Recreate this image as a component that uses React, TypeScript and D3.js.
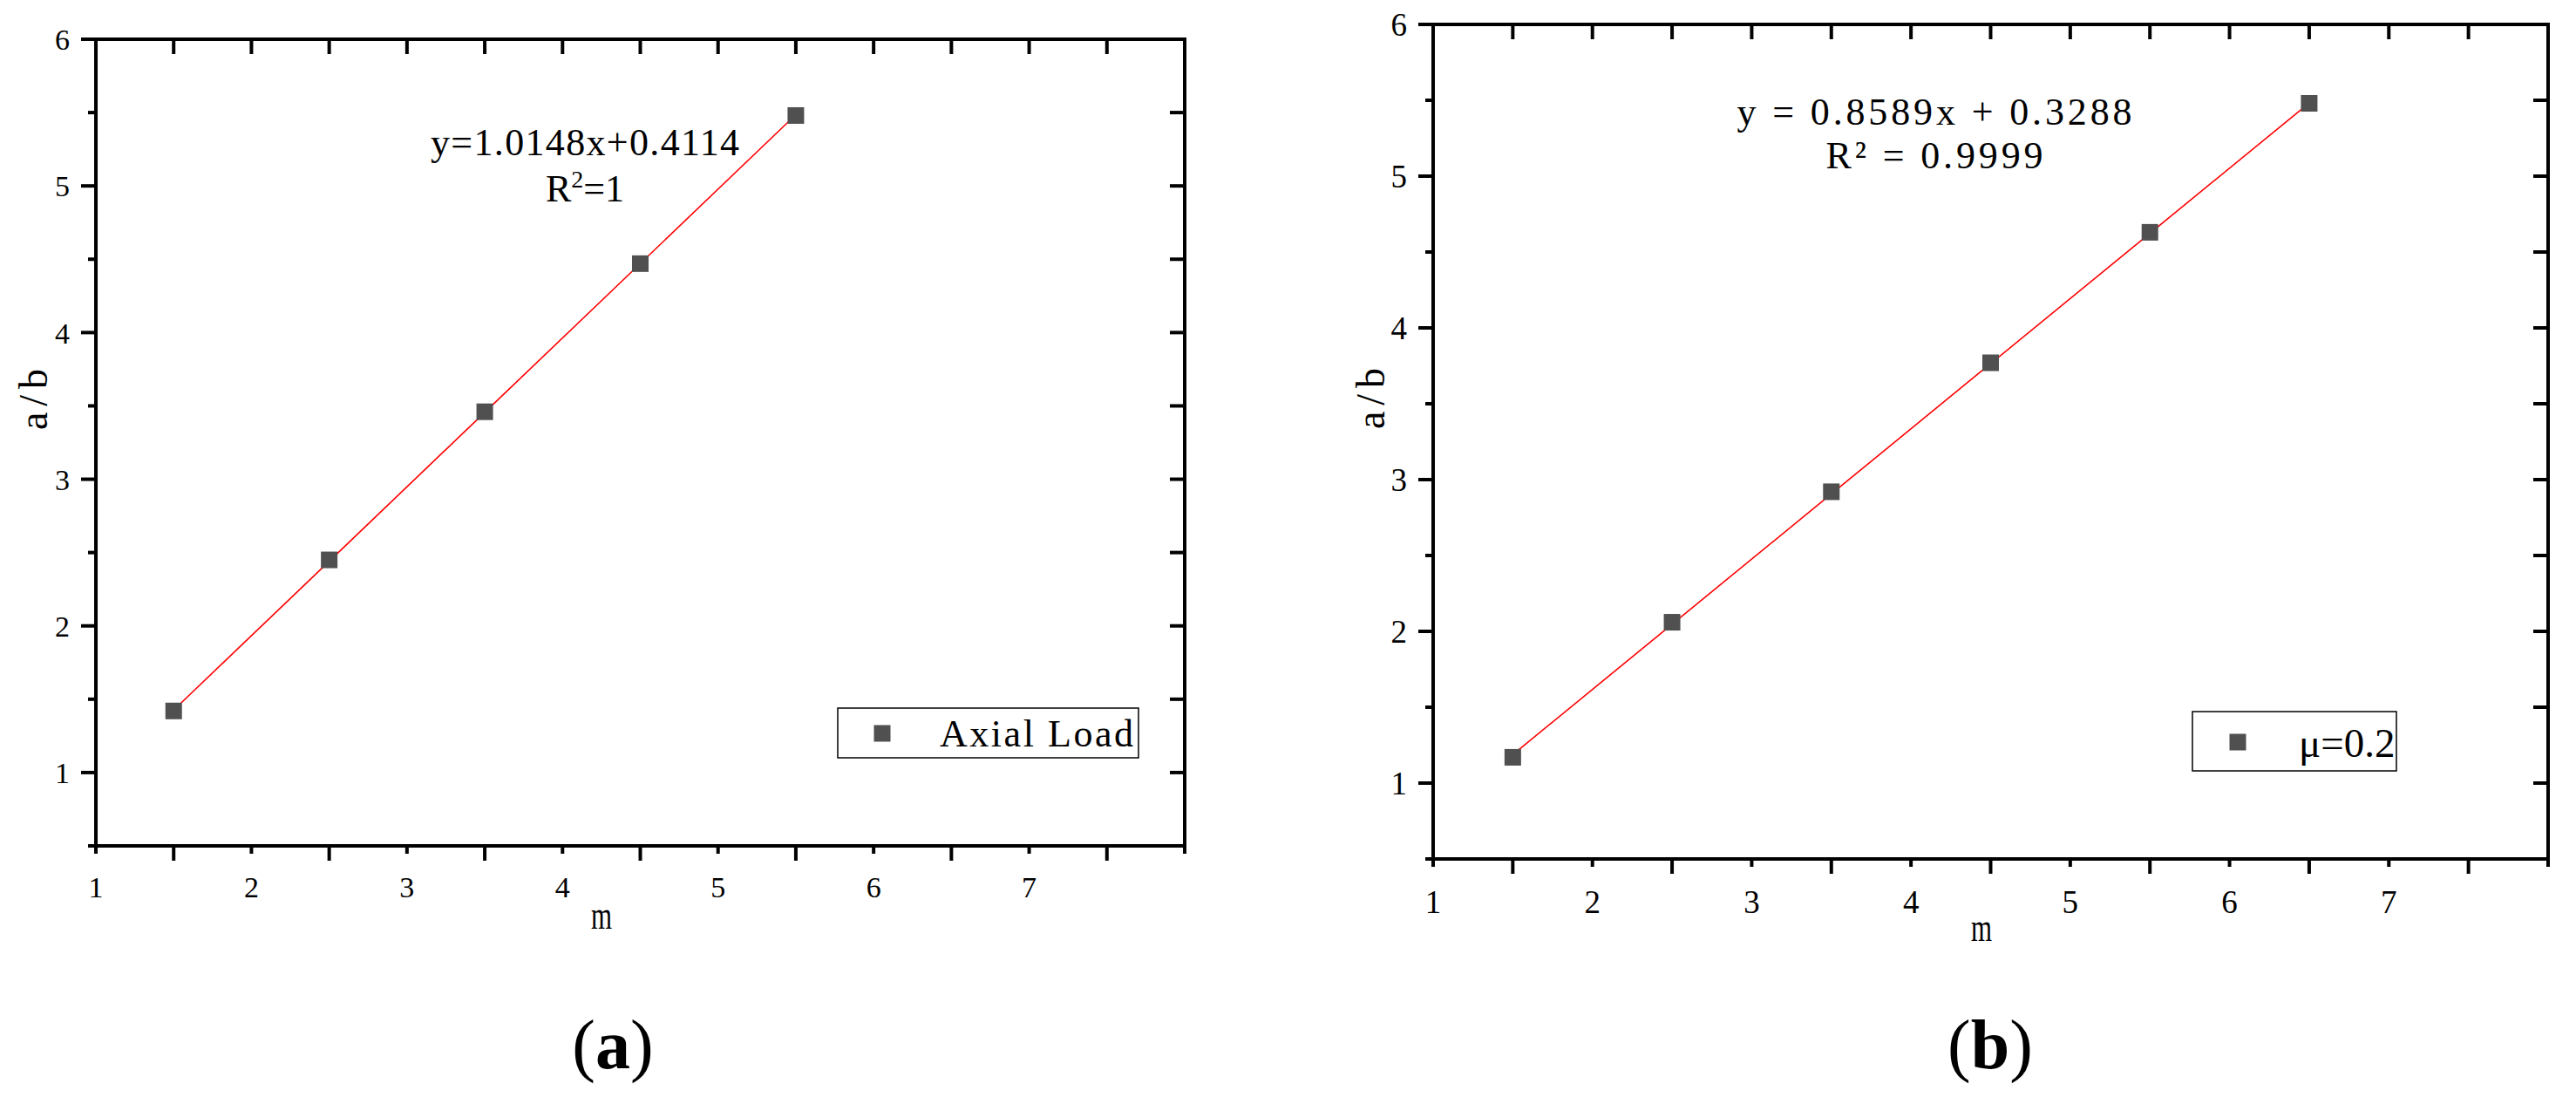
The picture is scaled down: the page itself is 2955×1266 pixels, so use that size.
import React from 'react';
import * as d3 from 'd3';

// panel (a): axial load
const mA = [1.5, 2.5, 3.5, 4.5, 5.5];
const abA = [1.42, 2.45, 3.46, 4.47, 5.48];
const fitA = { slope: 1.0148, intercept: 0.4114 };

// panel (b): mu = 0.2
const mB = [1.5, 2.5, 3.5, 4.5, 5.5, 6.5];
const abB = [1.17, 2.06, 2.92, 3.77, 4.63, 5.48];
const fitB = { slope: 0.8589, intercept: 0.3288 };

const xDomain = [1, 8];
const yDomain = [0.5, 6];
const xLabelTicks = [1, 2, 3, 4, 5, 6, 7];
const xLongTicks = [1.5, 2.5, 3.5, 4.5, 5.5, 6.5, 7.5];
const xShortTicks = [1, 2, 3, 4, 5, 6, 7, 8];
const yLabelTicks = [1, 2, 3, 4, 5, 6];
const yShortTicks = [0.5, 1.5, 2.5, 3.5, 4.5, 5.5];

const SERIF = '"Liberation Serif", "Times New Roman", serif';
const MARKER = '#505050';

type PanelProps = {
  m: number[];
  ab: number[];
  fit: { slope: number; intercept: number };
  frame: { left: number; right: number; top: number; bottom: number };
  tickFont: number;
  xLabelGap: number;
  eq: { cx: number; y1: number; w1: number; y2: number; text1: string };
  r2: React.ReactNode;
  r2Width?: number;
  legend: { x0: number; x1: number; y0: number; y1: number; mx: number; my: number; tx: number; ty: number; tw?: number; label: string };
  yTitle: { x: number; y: number };
  xTitle: { x: number; y: number };
  caption: { x: number; y: number; letter: string };
};

const Panel = (p: PanelProps) => {
  const { frame } = p;
  const x = d3.scaleLinear().domain(xDomain).range([frame.left, frame.right]);
  const y = d3.scaleLinear().domain(yDomain).range([frame.bottom, frame.top]);
  const pts = p.m.map((v, i) => ({ m: v, ab: p.ab[i], idx: i + 1 }));
  const fitLine = d3
    .line<{ m: number; idx: number }>()
    .x(d => x(d.m))
    .y(d => y(p.fit.slope * d.idx + p.fit.intercept));
  const sq = 19;
  const sw = 4;

  return (
    <g>
      {/* fit line */}
      <path d={fitLine(pts) || ''} fill="none" stroke="#ff0000" strokeWidth={1.6} />
      {pts.map((d, i) => (
        <rect key={i} x={x(d.m) - sq / 2} y={y(d.ab) - sq / 2} width={sq} height={sq} fill={MARKER} />
      ))}

      {/* frame */}
      <rect x={frame.left} y={frame.top} width={frame.right - frame.left} height={frame.bottom - frame.top}
        fill="none" stroke="#000" strokeWidth={sw} />

      {/* bottom axis ticks (outward) */}
      {xLongTicks.map(t => (
        <line key={'bl' + t} x1={x(t)} x2={x(t)} y1={frame.bottom} y2={frame.bottom + 17} stroke="#000" strokeWidth={sw} />
      ))}
      {xShortTicks.map(t => (
        <line key={'bs' + t} x1={x(t)} x2={x(t)} y1={frame.bottom} y2={frame.bottom + 9} stroke="#000" strokeWidth={sw} />
      ))}
      {/* top axis ticks (inward) */}
      {[...xLongTicks, ...xShortTicks.slice(1, -1)].map(t => (
        <line key={'t' + t} x1={x(t)} x2={x(t)} y1={frame.top} y2={frame.top + 17} stroke="#000" strokeWidth={sw} />
      ))}
      {/* left axis ticks (outward) */}
      {yLabelTicks.map(t => (
        <line key={'ll' + t} x1={frame.left - 17} x2={frame.left} y1={y(t)} y2={y(t)} stroke="#000" strokeWidth={sw} />
      ))}
      {yShortTicks.map(t => (
        <line key={'ls' + t} x1={frame.left - 9} x2={frame.left} y1={y(t)} y2={y(t)} stroke="#000" strokeWidth={sw} />
      ))}
      {/* right axis ticks (inward) */}
      {[...yLabelTicks.slice(0, -1), ...yShortTicks.slice(1)].map(t => (
        <line key={'r' + t} x1={frame.right - 17} x2={frame.right} y1={y(t)} y2={y(t)} stroke="#000" strokeWidth={sw} />
      ))}

      {/* tick labels */}
      {xLabelTicks.map(t => (
        <text key={'xl' + t} x={x(t)} y={frame.bottom + p.xLabelGap} textAnchor="middle"
          fontFamily={SERIF} fontSize={p.tickFont}>{t}</text>
      ))}
      {yLabelTicks.map(t => (
        <text key={'yl' + t} x={frame.left - 30} y={y(t)} dy="0.36em" textAnchor="end"
          fontFamily={SERIF} fontSize={p.tickFont}>{t}</text>
      ))}

      {/* axis titles */}
      <text transform={`translate(${p.yTitle.x},${p.yTitle.y}) rotate(-90)`} textAnchor="middle"
        fontFamily={SERIF} fontSize={46} textLength={70} lengthAdjust="spacing">a/b</text>
      <text x={p.xTitle.x} y={p.xTitle.y} textAnchor="middle" fontFamily={SERIF} fontSize={46}
        textLength={24} lengthAdjust="spacingAndGlyphs">m</text>

      {/* equation */}
      <text x={p.eq.cx} y={p.eq.y1} textAnchor="middle" fontFamily={SERIF} fontSize={44}
        textLength={p.eq.w1} lengthAdjust="spacing">{p.eq.text1}</text>
      <text x={p.eq.cx} y={p.eq.y2} textAnchor="middle" fontFamily={SERIF} fontSize={44}
        textLength={p.r2Width} lengthAdjust={p.r2Width ? 'spacing' : undefined}>{p.r2}</text>

      {/* legend */}
      <rect x={p.legend.x0} y={p.legend.y0} width={p.legend.x1 - p.legend.x0} height={p.legend.y1 - p.legend.y0}
        fill="#fff" stroke="#000" strokeWidth={1.5} />
      <rect x={p.legend.mx - sq / 2} y={p.legend.my - sq / 2} width={sq} height={sq} fill={MARKER} />
      <text x={p.legend.tx} y={p.legend.ty} fontFamily={SERIF} fontSize={p.legend.tw ? 44 : 47}
        textLength={p.legend.tw} lengthAdjust={p.legend.tw ? 'spacing' : undefined}>{p.legend.label}</text>

      {/* caption */}
      <text x={p.caption.x} y={p.caption.y} textAnchor="middle" fontFamily={SERIF} fontSize={80}>
        (<tspan fontWeight="bold">{p.caption.letter}</tspan>)
      </text>
    </g>
  );
};

const App = () => {
  return (
    <svg width={2955} height={1266} style={{ position: 'absolute', left: 0, top: 0, background: '#fff' }}>
      <rect width={2955} height={1266} fill="#fff" />
      <Panel
        m={mA}
        ab={abA}
        fit={fitA}
        frame={{ left: 110, right: 1359, top: 45, bottom: 970 }}
        tickFont={34}
        xLabelGap={59}
        eq={{ cx: 671, y1: 178, w1: 354, y2: 231, text1: 'y=1.0148x+0.4114' }}
        r2={<>R<tspan fontSize={28} dy={-16}>2</tspan><tspan dy={16}>=1</tspan></>}
        legend={{ x0: 961, x1: 1306, y0: 812, y1: 869, mx: 1012, my: 841, tx: 1078, ty: 856, tw: 222, label: 'Axial Load' }}
        yTitle={{ x: 54, y: 458 }}
        xTitle={{ x: 690, y: 1065 }}
        caption={{ x: 703, y: 1225, letter: 'a' }}
      />
      <Panel
        m={mB}
        ab={abB}
        fit={fitB}
        frame={{ left: 1644, right: 2923, top: 28, bottom: 985 }}
        tickFont={37}
        xLabelGap={62}
        eq={{ cx: 2219, y1: 143, w1: 453, y2: 193, text1: 'y = 0.8589x + 0.3288' }}
        r2={'R² = 0.9999'}
        r2Width={249}
        legend={{ x0: 2515, x1: 2749, y0: 816, y1: 884, mx: 2567, my: 851, tx: 2637, ty: 868, label: 'μ=0.2' }}
        yTitle={{ x: 1588, y: 457 }}
        xTitle={{ x: 2273, y: 1079 }}
        caption={{ x: 2283, y: 1225, letter: 'b' }}
      />
    </svg>
  );
};

export default App;
